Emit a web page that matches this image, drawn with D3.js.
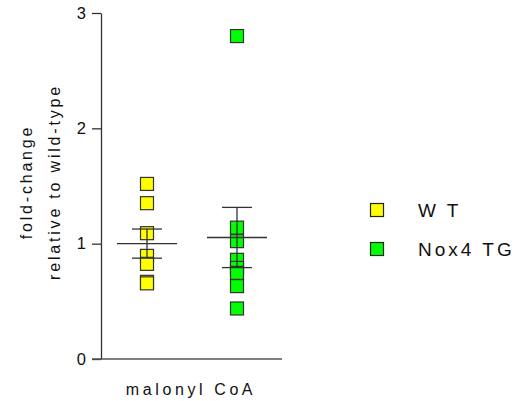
<!DOCTYPE html>
<html>
<head>
<meta charset="utf-8">
<script src="https://cdn.jsdelivr.net/npm/d3@7"></script>
<style>
  body { margin: 0; background: #fff; }
  text { font-family: "Liberation Sans", Arial, sans-serif; fill: #111; }
</style>
</head>
<body>
<div id="chart"></div>
<script>
// data
const groups = ["WT", "Nox4 TG"];
const legendLabels = ["W T", "Nox4 TG"];
const colors = ["#ffff00", "#00ff00"];
const wtValues = [1.518, 1.351, 1.091, 0.894, 0.825, 0.669, 0.656];
const noxValues = [2.80, 1.139, 1.022, 0.860, 0.790, 0.747, 0.632, 0.438];
const yTicks = [0, 1, 2, 3];
const category = "malonyl CoA";

const series = [wtValues, noxValues];

const width = 532, height = 401;

let svg = d3.select("#chart")
    .append("svg")
    .attr("width", width)
    .attr("height", height);

//scales
let y = d3.scaleLinear().domain([0, 3]).range([359, 13]);
let x = d3.scaleBand().domain(groups).range([102, 282]).padding(0);
let xc = g => x(g) + x.bandwidth() / 2;

//y axis
let yAxis = d3.axisLeft(y)
    .tickValues(yTicks)
    .tickFormat(d3.format("d"))
    .tickSize(9)
    .tickPadding(6)
    .tickSizeOuter(0);
let ya = svg.append("g")
    .attr("transform", "translate(101,0)")
    .call(yAxis);
ya.select(".domain").attr("stroke", "#333").attr("stroke-width", 1.3);
ya.selectAll(".tick line").attr("stroke", "#333").attr("stroke-width", 1.3);
ya.selectAll(".tick text")
    .style("font-size", "16.5px")
    .style("font-family", "Liberation Sans, Arial, sans-serif")
    .attr("fill", "#111");

//x axis line
svg.append("line")
    .attr("x1", 92).attr("x2", 282)
    .attr("y1", y(0)).attr("y2", y(0))
    .attr("stroke", "#555")
    .attr("stroke-width", 1.3);

//x label
svg.append("text")
    .attr("x", 191)
    .attr("y", 395)
    .attr("text-anchor", "middle")
    .style("font-size", "16px")
    .style("letter-spacing", "3.6px")
    .text(category);

//y title
let yt = svg.append("text")
    .attr("transform", "translate(0,182) rotate(-90)")
    .attr("text-anchor", "middle")
    .style("font-size", "16px")
    .style("letter-spacing", "2.8px");
yt.append("tspan").attr("x", 0).attr("y", 32).text("fold-change");
yt.append("tspan").attr("x", 0).attr("y", 60).text("relative to wild-type");

//points
const sq = 13;
series.forEach(function(vals, i) {
    let cx = xc(groups[i]);
    svg.selectAll(".pt" + i)
        .data(vals)
        .join("rect")
        .attr("class", "pt" + i)
        .attr("x", cx - sq / 2)
        .attr("y", d => y(d) - sq / 2)
        .attr("width", sq)
        .attr("height", sq)
        .attr("fill", colors[i])
        .attr("stroke", "#333")
        .attr("stroke-width", 1.2);

    //mean and sem
    let m = d3.mean(vals);
    let sem = d3.deviation(vals) / Math.sqrt(vals.length);
    let g = svg.append("g").attr("stroke", "#333").attr("stroke-width", 1.3);
    g.append("line").attr("x1", cx - 30).attr("x2", cx + 30).attr("y1", y(m)).attr("y2", y(m));
    g.append("line").attr("x1", cx).attr("x2", cx).attr("y1", y(m + sem)).attr("y2", y(m - sem));
    g.append("line").attr("x1", cx - 15).attr("x2", cx + 15).attr("y1", y(m + sem)).attr("y2", y(m + sem));
    g.append("line").attr("x1", cx - 15).attr("x2", cx + 15).attr("y1", y(m - sem)).attr("y2", y(m - sem));
});

//legend
let leg = svg.selectAll(".leg")
    .data(legendLabels)
    .join("g")
    .attr("class", "leg")
    .attr("transform", (d, i) => "translate(377," + (210 + i * 39) + ")");
leg.append("rect")
    .attr("x", -sq / 2).attr("y", -sq / 2)
    .attr("width", sq).attr("height", sq)
    .attr("fill", (d, i) => colors[i])
    .attr("stroke", "#222")
    .attr("stroke-width", 1.2);
leg.append("text")
    .attr("x", 41)
    .attr("y", 7)
    .style("font-size", "19px")
    .style("letter-spacing", "3px")
    .text(d => d);
</script>
</body>
</html>
